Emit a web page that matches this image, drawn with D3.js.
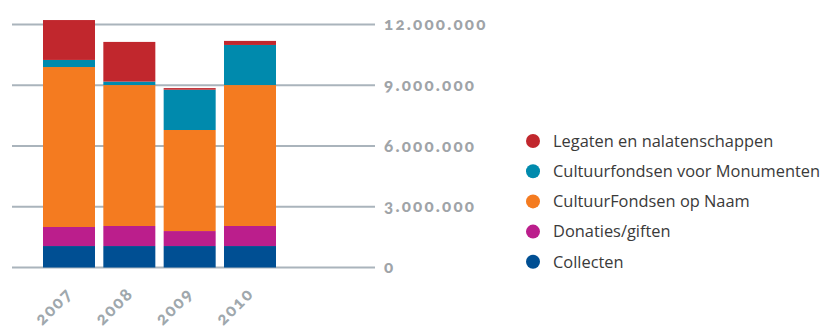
<!DOCTYPE html>
<html>
<head>
<meta charset="utf-8">
<script src="https://cdn.jsdelivr.net/npm/d3@7"></script>
<style>
  html, body { margin: 0; padding: 0; background: #fff; }
  svg { display: block; }
  .tick-label { font-family: "Lato", "Open Sans", sans-serif; font-weight: 900; fill: #9fa4a8; font-variant-numeric: oldstyle-nums; font-feature-settings: "onum" 1; }
  .year-label { fill: #9fa8ad; }
  .legend-label { font-family: "Open Sans", sans-serif; fill: #3a3a3a; }
</style>
</head>
<body>
<svg id="chart" width="823" height="331"></svg>
<script>
// Fondsenwerving per jaar (euro)
const years = ["2007", "2008", "2009", "2010"];
const seriesNames = ["Collecten", "Donaties/giften", "CultuurFondsen op Naam", "Cultuurfondsen voor Monumenten", "Legaten en nalatenschappen"];
const collecten = [1060000, 1060000, 1060000, 1060000];
const donaties = [940000, 990000, 740000, 990000];
const fondsenOpNaam = [7900000, 6960000, 4990000, 6960000];
const monumenten = [350000, 170000, 1990000, 1980000];
const legaten = [1970000, 1960000, 80000, 200000];
const yTicks = [0, 3000000, 6000000, 9000000, 12000000];
const colors = ["#004f93", "#bb1e8c", "#f47b20", "#008aad", "#c1272d"];

const rows = years.map((y, i) => ({
  year: y,
  "Collecten": collecten[i],
  "Donaties/giften": donaties[i],
  "CultuurFondsen op Naam": fondsenOpNaam[i],
  "Cultuurfondsen voor Monumenten": monumenten[i],
  "Legaten en nalatenschappen": legaten[i]
}));

const svg = d3.select("#chart");
const gridLeft = 12, gridRight = 375, plotTop = 24.5, plotBottom = 267.5;

const x = d3.scaleBand().domain(years).range([43, 276]).paddingInner(0.138).paddingOuter(0);
const y = d3.scaleLinear().domain([0, 12000000]).range([plotBottom, plotTop]);

// Gridlines
svg.append("g").selectAll("line").data(yTicks).join("line")
  .attr("x1", gridLeft).attr("x2", gridRight)
  .attr("y1", d => y(d)).attr("y2", d => y(d))
  .attr("stroke", "#aab4bc").attr("stroke-width", 2);

// Stacked bars
const stack = d3.stack().keys(seriesNames)(rows);
const color = d3.scaleOrdinal().domain(seriesNames).range(colors);
svg.append("g").selectAll("g").data(stack).join("g")
  .attr("fill", d => color(d.key))
  .selectAll("rect").data(d => d).join("rect")
  .attr("x", d => x(d.data.year))
  .attr("width", x.bandwidth())
  .attr("y", d => y(d[1]))
  .attr("height", d => y(d[0]) - y(d[1]));

// Value axis labels
const fmt = d3.formatLocale({ decimal: ",", thousands: ".", grouping: [3], currency: ["€", ""] }).format(",.0f");
svg.append("g").selectAll("text").data(yTicks).join("text")
  .attr("class", "tick-label")
  .attr("x", 384).attr("y", d => y(d))
  .attr("dy", "0.33em")
  .attr("font-size", 17)
  .attr("letter-spacing", 2.2)
  .text(d => fmt(d));

// Year labels, rotated
svg.append("g").selectAll("text").data(years).join("text")
  .attr("class", "tick-label year-label")
  .attr("font-size", 17.5)
  .attr("letter-spacing", 1.8)
  .attr("text-anchor", "end")
  .attr("transform", d => `translate(${x(d) + x.bandwidth() / 2 + 5},${plotBottom + 27}) rotate(-45)`)
  .text(d => d);

// Legend
const legendOrder = seriesNames.slice().reverse();
const lg = svg.append("g").selectAll("g").data(legendOrder).join("g")
  .attr("transform", (d, i) => `translate(533,${141 + i * 30.2})`);
lg.append("circle").attr("r", 7).attr("fill", d => color(d));
lg.append("text").attr("class", "legend-label")
  .attr("x", 20).attr("dy", "0.35em").attr("font-size", 16.4)
  .text(d => d);
</script>
</body>
</html>
